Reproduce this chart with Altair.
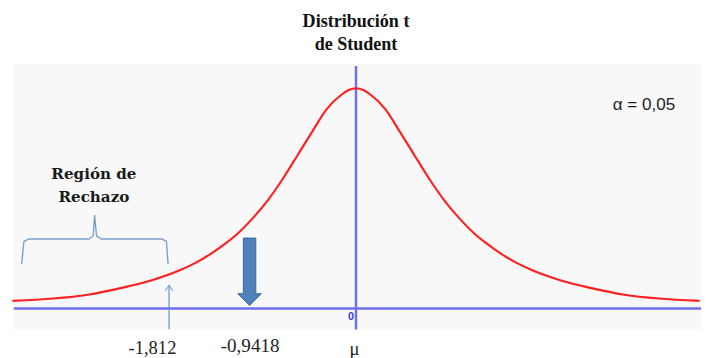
import altair as alt
import pandas as pd

# ---- data (x in "t-like" units, y in density-like units) ----
curve_u = [-3.52, -3.1, -2.75, -2.4, -2.1, -1.8, -1.65, -1.5, -1.35, -1.2, -1.05, -0.9, -0.75,
           -0.6, -0.45, -0.3, -0.15, -0.075, 0.0, 0.075, 0.15, 0.3, 0.45, 0.6, 0.75, 0.9, 1.05,
           1.2, 1.35, 1.5, 1.65, 1.8, 2.1, 2.4, 2.75, 3.1, 3.52]
curve_v = [0.0139, 0.0182, 0.0252, 0.0377, 0.0512, 0.0702, 0.0828, 0.0985, 0.1171, 0.1389,
           0.1664, 0.1984, 0.2369, 0.2794, 0.3225, 0.3640, 0.3902, 0.3988, 0.4020, 0.3988,
           0.3902, 0.3640, 0.3225, 0.2794, 0.2369, 0.1984, 0.1664, 0.1389, 0.1171, 0.0985,
           0.0828, 0.0702, 0.0512, 0.0377, 0.0252, 0.0182, 0.0139]

brace_u = [-3.425, -3.402, -3.352, -2.735, -2.692, -2.678, -2.658, -2.612, -1.985, -1.942, -1.925]
brace_v = [0.0811, 0.1226, 0.1268, 0.1268, 0.1327, 0.1701, 0.1327, 0.1268, 0.1268, 0.1226, 0.0811]

labels = ["Distribución t", "de Student", "Región de", "Rechazo", "α = 0,05",
          "-1,812", "-0,9418", "μ", "0"]
label_u = [0.0, 0.0, -2.685, -2.685, 2.95, -2.085, -1.085, -0.015, -0.052]
label_v = [0.5246, 0.4819, 0.245, 0.204, 0.3715, -0.0722, -0.0686, -0.0740, -0.0157]

critical_u = -1.915          # thin arrow (critical value)
stat_u = -1.09               # thick arrow (test statistic)
umin, umax = -3.505, 3.535
vmin, vmax = -0.0846, 0.539
bg_u = [-3.505, 3.535]
bg_v = [-0.0383, 0.4463]
vaxis_v = [-0.0383, 0.4427]

xs = alt.Scale(domain=[umin, umax], nice=False, zero=False)
ys = alt.Scale(domain=[vmin, vmax], nice=False, zero=False)


def X(f="u"):
    return alt.X(f"{f}:Q", scale=xs, axis=None)


def Y(f="v"):
    return alt.Y(f"{f}:Q", scale=ys, axis=None)


bg = alt.Chart(pd.DataFrame({"u": [bg_u[0]], "u2": [bg_u[1]], "v": [bg_v[0]], "v2": [bg_v[1]]})).mark_rect(
    fill="#f8f8f8").encode(x=X(), x2="u2:Q", y=Y(), y2="v2:Q")

haxis = alt.Chart(pd.DataFrame({"u": [umin], "u2": [umax], "v": [0.0]})).mark_rule(
    color="#6f6ff2", strokeWidth=2.5).encode(x=X(), x2="u2:Q", y=Y())
vaxis = alt.Chart(pd.DataFrame({"u": [0.0], "v": [vaxis_v[0]], "v2": [vaxis_v[1]]})).mark_rule(
    color="#6f6ff2", strokeWidth=2.5).encode(x=X(), y=Y(), y2="v2:Q")

curve = alt.Chart(pd.DataFrame({"u": curve_u, "v": curve_v})).mark_line(
    color="#ff2020", strokeWidth=2.2, interpolate="monotone").encode(x=X(), y=Y())

brace = alt.Chart(pd.DataFrame({"u": brace_u, "v": brace_v, "o": list(range(len(brace_u)))})).mark_line(
    color="#7b9fcc", strokeWidth=1.4, strokeJoin="round").encode(x=X(), y=Y(), order="o:Q")

thin = alt.Chart(pd.DataFrame({"u": [critical_u], "v": [-0.0378], "v2": [0.0424]})).mark_rule(
    color="#5b8fd0", strokeWidth=1.2).encode(x=X(), y=Y(), y2="v2:Q")
thin_head = alt.Chart(pd.DataFrame({"u": [critical_u], "v": [0.0424]})).mark_point(
    shape="M-1,1.5L0,0L1,1.5", filled=False, stroke="#5b8fd0", strokeWidth=1.2, size=64).encode(x=X(), y=Y())

big_arrow = alt.Chart(pd.DataFrame({"u": [stat_u], "v": [0.1286]})).mark_point(
    shape="M-0.53,0L0.53,0L0.53,4.75L1,4.75L0,5.75L-1,4.75L-0.53,4.75Z",
    filled=True, fill="#4f81bd", stroke="#3a6592", strokeWidth=1, size=576, opacity=1).encode(x=X(), y=Y())

df_lab = pd.DataFrame({"u": label_u, "v": label_v, "t": labels})


def txt(i, **kw):
    return alt.Chart(df_lab.iloc[[i]]).mark_text(baseline="middle", align="center", **kw).encode(
        x=X(), y=Y(), text="t:N")


texts = [
    txt(0, font="Liberation Serif", fontSize=18.5, fontWeight="bold", color="#111111"),
    txt(1, font="Liberation Serif", fontSize=18.5, fontWeight="bold", color="#111111"),
    txt(2, font="DejaVu Serif", fontSize=15.5, fontWeight="bold", color="#1a1a1a"),
    txt(3, font="DejaVu Serif", fontSize=15.5, fontWeight="bold", color="#1a1a1a"),
    txt(4, font="Liberation Sans", fontSize=17.5, color="#222222"),
    txt(5, font="Liberation Serif", fontSize=19, color="#222222"),
    txt(6, font="Liberation Serif", fontSize=19.5, color="#222222"),
    txt(7, font="Liberation Serif", fontSize=19, color="#222222"),
    txt(8, font="Liberation Sans", fontSize=11, fontWeight="bold", color="#3a3ae0"),
]

chart = alt.layer(bg, haxis, vaxis, curve, brace, thin, thin_head, big_arrow, *texts).properties(
    width=704, height=350, padding=0, background="white"
).configure_view(stroke=None)

chart.save("out.html", embed_options={"renderer": "svg", "actions": False})
